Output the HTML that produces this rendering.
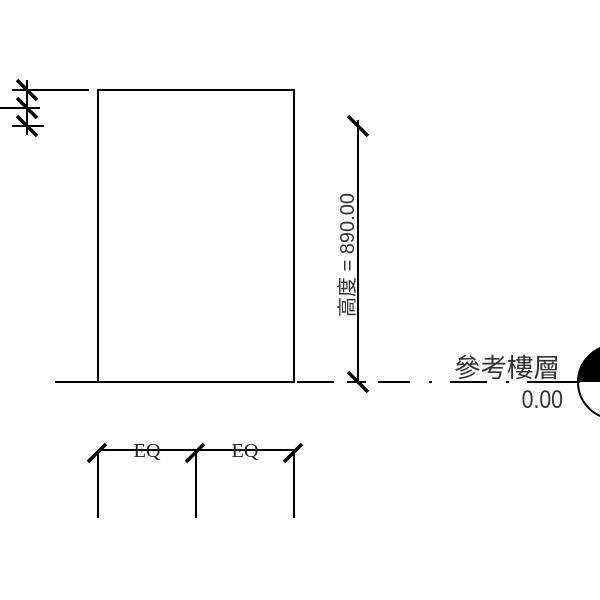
<!DOCTYPE html>
<html><head><style>body{margin:0;background:#fff}svg{display:block}</style></head><body>
<svg width="600" height="600" xmlns="http://www.w3.org/2000/svg" font-family="Liberation Serif, 'Noto Serif CJK SC', serif">
<g stroke="#000" stroke-width="2" fill="none">
<rect x="98" y="90" width="196" height="292"/>
<line x1="12" y1="90" x2="89" y2="90"/>
<line x1="0" y1="108" x2="40" y2="108"/>
<line x1="12" y1="126" x2="44" y2="126"/>
<line x1="27" y1="80" x2="27" y2="135"/>
<line x1="55" y1="382" x2="295" y2="382"/>
<line x1="297" y1="382" x2="334" y2="382"/>
<line x1="347" y1="382" x2="366" y2="382"/>
<line x1="378" y1="382" x2="410" y2="382"/>
<line x1="429" y1="382" x2="432" y2="382"/>
<line x1="450" y1="382" x2="487" y2="382"/>
<line x1="506" y1="382" x2="509" y2="382"/>
<line x1="527" y1="382" x2="580" y2="382"/>
<line x1="358" y1="120" x2="358" y2="382"/>
<line x1="98" y1="450" x2="294" y2="450"/>
<line x1="98" y1="450" x2="98" y2="518"/>
<line x1="196" y1="450" x2="196" y2="518"/>
<line x1="294" y1="450" x2="294" y2="518"/>
</g>
<g stroke="#000" stroke-width="3.5">
<line x1="17" y1="80" x2="37" y2="100"/>
<line x1="17" y1="98" x2="37" y2="118"/>
<line x1="17" y1="116" x2="37" y2="136"/>
<line x1="348" y1="116" x2="368" y2="136"/>
<line x1="348" y1="372" x2="368" y2="392"/>
<line x1="88" y1="462" x2="106" y2="444"/>
<line x1="186" y1="462" x2="204" y2="444"/>
<line x1="284" y1="462" x2="302" y2="444"/>
</g>
<path d="M615 382 L578 382 A37 37 0 0 1 615 345 Z" fill="#000"/>
<circle cx="615" cy="382" r="37" fill="none" stroke="#000" stroke-width="2"/>
<text x="147" y="457" font-size="20" text-anchor="middle" textLength="27" lengthAdjust="spacingAndGlyphs" fill="#222">EQ</text>
<text x="245" y="457" font-size="20" text-anchor="middle" textLength="27" lengthAdjust="spacingAndGlyphs" fill="#222">EQ</text>
<text transform="translate(563,408) scale(0.85,1)" font-size="25" text-anchor="end" font-family="Liberation Sans, sans-serif" fill="#333">0.00</text>
<text x="560" y="377" font-size="26" text-anchor="end" textLength="106" lengthAdjust="spacingAndGlyphs" font-family="Liberation Sans, 'Noto Sans CJK TC', sans-serif" fill="#333">參考樓層</text>
<text transform="translate(354,255) rotate(-90)" font-size="20" text-anchor="middle" textLength="124" lengthAdjust="spacingAndGlyphs" font-family="Liberation Sans, 'Noto Sans CJK TC', sans-serif" fill="#333">高度 = 890.00</text>
</svg>
</body></html>
